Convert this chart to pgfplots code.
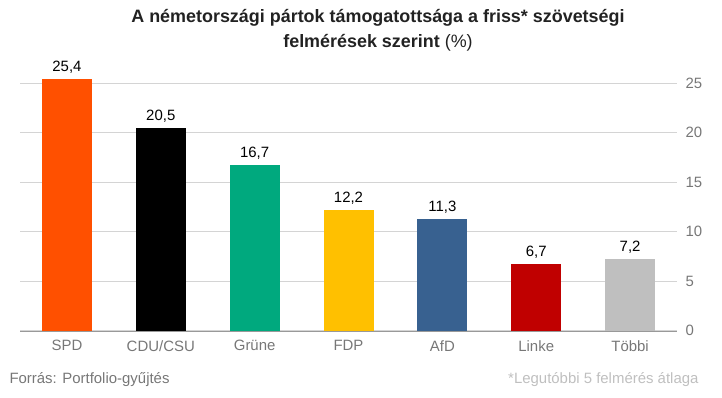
\documentclass[border=0pt]{standalone}
\usepackage{pgfplots}
\pgfplotsset{compat=1.18}
\usepackage{fontspec}
\setmainfont{Liberation Sans}
\definecolor{cSPD}{HTML}{FF5000}
\definecolor{cCDU}{HTML}{000000}
\definecolor{cGRU}{HTML}{00A97E}
\definecolor{cFDP}{HTML}{FFC000}
\definecolor{cAFD}{HTML}{386190}
\definecolor{cLIN}{HTML}{C00000}
\definecolor{cTOB}{HTML}{BFBFBF}
\definecolor{gridc}{HTML}{D4D4D4}
\definecolor{tickc}{HTML}{777777}
\definecolor{titlec}{HTML}{222222}
\begin{document}
\begin{tikzpicture}[x=1bp,y=1bp]
\path[use as bounding box] (0,0) rectangle (722,397);
\begin{axis}[
  at={(20bp,66.3bp)}, anchor=south west,
  scale only axis, width=657bp, height=267.3bp,
  xmin=-0.5, xmax=6.5, ymin=0, ymax=27,
  axis x line*=bottom, axis y line*=right,
  x axis line style={draw=gray!80, -}, y axis line style={draw=none},
  xtick={0,1,2,3,4,5,6},
  xticklabels={SPD,CDU/CSU,Grüne,FDP,AfD,Linke,Többi},
  ytick={0,5,10,15,20,25},
  major tick length=0pt,
  ymajorgrids, grid style={gridc, line width=0.8pt},
  xticklabel style={text=tickc, font=\fontsize{15}{17}\selectfont, yshift=-6bp},
  yticklabel style={text=tickc, font=\fontsize{15}{17}\selectfont, xshift=5bp},
  /pgf/number format/assume math mode=true,
  ybar, bar width=50bp, bar shift=0pt,
  nodes near coords,
  nodes near coords style={text=black, font=\fontsize{15}{17}\selectfont, yshift=2bp,
    /pgf/number format/.cd, use comma, fixed, fixed zerofill, precision=1},
  clip=false,
]
\addplot[fill=cSPD, draw=none] coordinates {(0,25.4)};
\addplot[fill=cCDU, draw=none] coordinates {(1,20.5)};
\addplot[fill=cGRU, draw=none] coordinates {(2,16.7)};
\addplot[fill=cFDP, draw=none] coordinates {(3,12.2)};
\addplot[fill=cAFD, draw=none] coordinates {(4,11.3)};
\addplot[fill=cLIN, draw=none] coordinates {(5,6.7)};
\addplot[fill=cTOB, draw=none] coordinates {(6,7.2)};
\end{axis}
\node[text=titlec, font=\fontsize{18}{25}\selectfont\bfseries, align=center] at (378,367)
  {A németországi pártok támogatottsága a friss* szövetségi\\felmérések szerint \mdseries(\%)};
\node[anchor=west, text=tickc, font=\fontsize{15}{17}\selectfont] at (6,17) {Forrás: Portfolio-gyűjtés};
\node[anchor=east, text=cTOB, font=\fontsize{15}{17}\selectfont] at (702,17) {*Legutóbbi 5 felmérés átlaga};
\end{tikzpicture}
\end{document}
